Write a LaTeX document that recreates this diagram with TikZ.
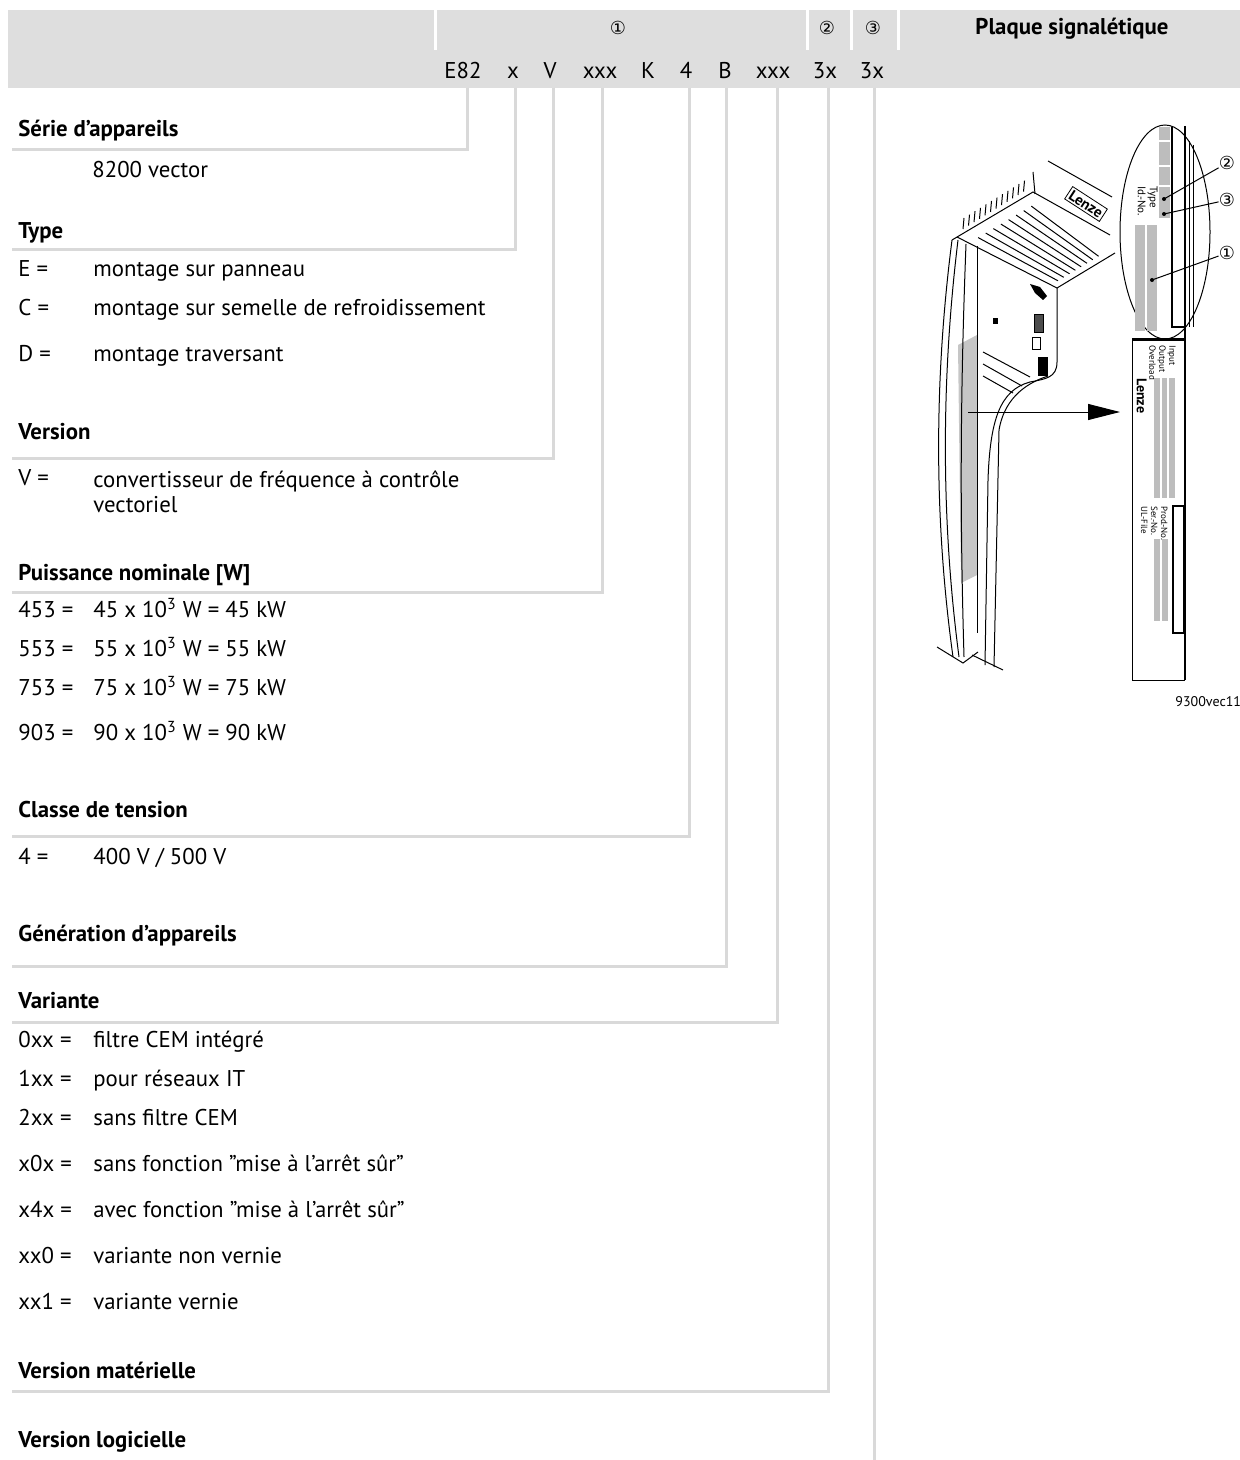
\documentclass[tikz,border=0pt]{standalone}
\usepackage{fontspec}
\setmainfont{PT Sans}
\newfontfamily\circledfont{DejaVu Sans}
\usepackage{xcolor}
\usetikzlibrary{positioning}
\usetikzlibrary{arrows.meta}

\definecolor{bandgray}{HTML}{DEDEDE}
\definecolor{linegray}{HTML}{D9D9D9}
\definecolor{plategray}{HTML}{BDBDBD}

\begin{document}
\begin{tikzpicture}[x=0.5pt,y=-0.5pt]
        \tikzstyle{code}=[anchor=base,inner sep=0pt,font=\fontsize{11.4}{13}\selectfont]
        \tikzstyle{heading}=[anchor=base west,inner sep=0pt,font=\fontsize{11.4}{13}\selectfont\bfseries]
        \tikzstyle{entry}=[anchor=base west,inner sep=0pt,font=\fontsize{11.4}{12.5}\selectfont]
        \tikzstyle{circnum}=[inner sep=0pt,font=\circledfont\fontsize{9}{10}\selectfont]
        \tikzstyle{leader}=[draw=linegray,line width=1.5pt]
        \tikzstyle{ink}=[draw=black,line width=0.5pt]
        \tikzstyle{tiny}=[inner sep=0pt,rotate=-90,anchor=north west,align=left,font=\fontsize{4.5}{5}\selectfont]

        \useasboundingbox (0,0) rectangle (1240,1460);

        % header band
        \fill[bandgray] (8,10) rectangle (1240,88);
        \foreach \sx in {435,807,851,898}
          \draw[white,line width=1.5pt] (\sx,10) -- (\sx,50);
        \node [circnum] (n1) at (618,28) {①};
        \node [circnum] (n2) at (827,28) {②};
        \node [circnum] (n3) at (873,28) {③};
        \node [heading,anchor=base] (plate) at (1072,35) {Plaque signalétique};

        % type code
        \node [code] (cE) at (463,79) {E82};
        \node [code] (cx) at (513,79) {x};
        \node [code] (cV) at (550,79) {V};
        \node [code] (cP) at (600,79) {xxx};
        \node [code] (cK) at (648,79) {K};
        \node [code] (cU) at (686,79) {4};
        \node [code] (cB) at (725,79) {B};
        \node [code] (cA) at (773,79) {xxx};
        \node [code] (cH) at (825,79) {3x};
        \node [code] (cS) at (872,79) {3x};

        % leaders from the code down to the headings
        \coordinate (t1) at (467,88);  \coordinate (u1) at (12,150);
        \coordinate (t2) at (515,88);  \coordinate (u2) at (12,250);
        \coordinate (t3) at (553,88);  \coordinate (u3) at (12,458);
        \coordinate (t4) at (602,88);  \coordinate (u4) at (12,592);
        \coordinate (t5) at (689,88);  \coordinate (u5) at (12,836);
        \coordinate (t6) at (726,88);  \coordinate (u6) at (12,966);
        \coordinate (t7) at (777,88);  \coordinate (u7) at (12,1022);
        \coordinate (t8) at (828,88);  \coordinate (u8) at (12,1391);
        \coordinate (t9) at (874,88);  \coordinate (u9) at (874,1460);
        \draw[leader] (t1) |- (u1);
        \draw[leader] (t2) |- (u2);
        \draw[leader] (t3) |- (u3);
        \draw[leader] (t4) |- (u4);
        \draw[leader] (t5) |- (u5);
        \draw[leader] (t6) |- (u6);
        \draw[leader] (t7) |- (u7);
        \draw[leader] (t8) |- (u8);
        \draw[leader] (t9) -- (u9);

        % Serie
        \node [heading] (serie) at (18,137) {Série d’appareils};
        \node [entry] (serieV) at (92,178) {8200 vector};
        % Type
        \node [heading] (type) at (18,239) {Type};
        \node [entry] (typeE) at (18,277) {E =};
        \node [entry] (typeEv) at (93,277) {montage sur panneau};
        \node [entry] (typeC) at (18,315) {C =};
        \node [entry] (typeCv) at (93,315) {montage sur semelle de refroidissement};
        \node [entry] (typeD) at (18,361) {D =};
        \node [entry] (typeDv) at (93,361) {montage traversant};
        % Version
        \node [heading] (vers) at (18,439) {Version};
        \node [entry] (versV) at (18,485) {V =};
        \node [entry,align=left,anchor=north west] (versVv) at (93,470) {convertisseur de fréquence à contrôle\\vectoriel};
        % Puissance
        \node [heading] (puis) at (18,580) {Puissance nominale [W]};
        \node [entry] (p453) at (18,617) {453 =};
        \node [entry] (p453v) at (93,617) {45 x 10\textsuperscript{3} W = 45 kW};
        \node [entry] (p553) at (18,656) {553 =};
        \node [entry] (p553v) at (93,656) {55 x 10\textsuperscript{3} W = 55 kW};
        \node [entry] (p753) at (18,695) {753 =};
        \node [entry] (p753v) at (93,695) {75 x 10\textsuperscript{3} W = 75 kW};
        \node [entry] (p903) at (18,740) {903 =};
        \node [entry] (p903v) at (93,740) {90 x 10\textsuperscript{3} W = 90 kW};
        % Classe de tension
        \node [heading] (tens) at (18,817) {Classe de tension};
        \node [entry] (tens4) at (18,864) {4 =};
        \node [entry] (tens4v) at (93,864) {400 V / 500 V};
        % Generation
        \node [heading] (gen) at (18,941) {Génération d’appareils};
        % Variante
        \node [heading] (var) at (18,1008) {Variante};
        \node [entry] (v0xx) at (18,1047) {0xx =};
        \node [entry] (v0xxv) at (93,1047) {filtre CEM intégré};
        \node [entry] (v1xx) at (18,1086) {1xx =};
        \node [entry] (v1xxv) at (93,1086) {pour réseaux IT};
        \node [entry] (v2xx) at (18,1125) {2xx =};
        \node [entry] (v2xxv) at (93,1125) {sans filtre CEM};
        \node [entry] (vx0x) at (18,1171) {x0x =};
        \node [entry] (vx0xv) at (93,1171) {sans fonction ”mise à l’arrêt sûr”};
        \node [entry] (vx4x) at (18,1217) {x4x =};
        \node [entry] (vx4xv) at (93,1217) {avec fonction ”mise à l’arrêt sûr”};
        \node [entry] (vxx0) at (18,1263) {xx0 =};
        \node [entry] (vxx0v) at (93,1263) {variante non vernie};
        \node [entry] (vxx1) at (18,1309) {xx1 =};
        \node [entry] (vxx1v) at (93,1309) {variante vernie};
        % Versions
        \node [heading] (hw) at (18,1378) {Version matérielle};
        \node [heading] (sw) at (18,1447) {Version logicielle};

        % drawing of the drive
        \begin{scope}
          \fill[gray!45] (958,345) -- (977,335) -- (977,575) -- (961,583) -- cycle;
          % top face
          \draw[ink] (957,237) -- (1057,288) -- (1115,253);
          \draw[ink] (952,240) -- (1033,192) -- (1110,235);
          \draw[ink] (1048,161) -- (1112,197);
          \draw[ink] (1033,172) -- (1035,194);
          \foreach \t in {0.12,0.22,...,0.92}
            \draw[ink] ({957+76*\t+12},{237-45*\t+6}) -- ({1057+58*\t-6},{288-35*\t-3});
          \foreach \i in {0,...,11}
            \draw[ink] ({963+5.5*\i},{229-3.4*\i}) -- ({964+5.5*\i},{218-3.4*\i});
          \node [inner sep=1pt,rotate=-33,draw,line width=0.4pt,font=\fontsize{7.5}{8}\selectfont\bfseries] (logo) at (1086,204) {Lenze};
          % body
          \draw[ink] (952,240) .. controls (934,380) and (934,520) .. (953,657);
          \draw[ink] (958,240) .. controls (941,380) and (941,520) .. (959,657);
          \draw[ink] (966,244) .. controls (960,400) and (960,520) .. (964,657);
          \draw[ink] (977,246) -- (977,633);
          \draw[ink] (1057,288) -- (1057,362) .. controls (1057,378) and (1045,379) .. (1030,382)
                     .. controls (1000,390) and (990,420) .. (988,480) -- (985,665);
          \draw[ink] (1048,376) .. controls (1030,382) and (1005,395) .. (999,430) -- (994,667);
          \draw[ink] (983,352) -- (1030,377);
          \draw[ink] (983,364) -- (1022,386);
          \draw[ink] (983,376) -- (1013,393);
          \draw[ink] (937,647) -- (963,663) -- (978,652);
          \draw[ink] (972,655) -- (1003,670);
          \fill (1030,284) -- (1040,287) -- (1047,296) -- (1043,300) -- (1035,293) -- cycle;
          \draw[ink,fill=black!70] (1034,315) rectangle (1043,333);
          \draw[ink] (1032,338) rectangle (1040,350);
          \draw[ink,fill=black] (1038,358) rectangle (1047,375);
          \fill (993,318) rectangle (998,324);
        \end{scope}

        % nameplate
        \begin{scope}
          \draw[ink,fill=white] (1165,232) ellipse [x radius=45, y radius=107];
          \fill[plategray] (1159,127) rectangle (1170,218);
          \draw[white,line width=0.8pt] (1159,141) -- (1170,141);
          \draw[white,line width=0.8pt] (1159,166) -- (1170,166);
          \draw[white,line width=0.8pt] (1159,186) -- (1170,186);
          \fill[plategray] (1135,225) rectangle (1145,331);
          \fill[plategray] (1147,225) rectangle (1157,331);
          \draw[line width=1pt] (1172,127) -- (1172,327) -- (1185,327);
          \draw[line width=1.2pt] (1185,126) -- (1185,680);
          \draw[ink] (1189,141) -- (1189,327);
          \draw[ink] (1193,145) -- (1193,327);
          \node [tiny,font=\fontsize{5.5}{6}\selectfont] (typeid) at (1158,186) {Type\\Id.-No.};
          \coordinate (d2) at (1164,199);
          \coordinate (d3) at (1164,214);
          \coordinate (d1) at (1152,280);
          \fill (d2) circle (2); \fill (d3) circle (2); \fill (d1) circle (2);
          \node [circnum] (m2) at (1227,163) {②};
          \node [circnum] (m3) at (1227,200) {③};
          \node [circnum] (m1) at (1227,253) {①};
          \draw[ink] (d2) -- (m2);
          \draw[ink] (d3) -- (m3);
          \draw[ink] (d1) -- (m1);
          \draw[line width=1.5pt] (1132,340) -- (1185,340);
          \draw[ink] (1132,340) -- (1132,680) -- (1185,680);
          \node [tiny] (inout) at (1176,345) {Input\\Output\\Overload};
          \node [inner sep=0pt,rotate=-90,anchor=north west,font=\fontsize{7}{8}\selectfont\bfseries] (plogo) at (1147,378) {Lenze};
          \fill[plategray] (1154,378) rectangle (1160,498);
          \fill[plategray] (1162,378) rectangle (1167,498);
          \fill[plategray] (1169,378) rectangle (1175,498);
          \node [tiny] (prod) at (1168,506) {Prod.-No.\\Ser.-No.\\UL-File};
          \fill[plategray] (1154,539) rectangle (1160,621);
          \fill[plategray] (1162,539) rectangle (1168,621);
          \draw[line width=1pt] (1173,506) rectangle (1184,633);
          \node [anchor=base west,inner sep=0pt,font=\fontsize{7}{8}\selectfont] (figid) at (1175,706) {9300vec112};
        \end{scope}

        % arrow to the nameplate
        \coordinate (arrS) at (968,412);
        \coordinate (arrE) at (1120,412);
        \draw[ink,-{Triangle[length=16pt,width=8pt]}] (arrS) -- (arrE);
\end{tikzpicture}
\end{document}
